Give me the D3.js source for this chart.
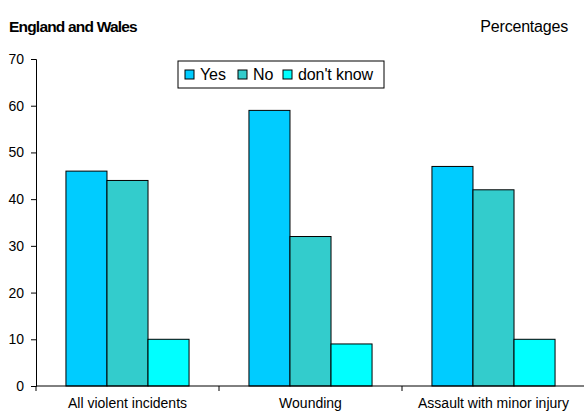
<!DOCTYPE html>
<html>
<head>
<meta charset="utf-8">
<script src="https://cdn.jsdelivr.net/npm/d3@7"></script>
<style>
  body { margin: 0; background: #fff; }
  svg { display: block; font-family: "Liberation Sans", Arial, sans-serif; }
</style>
</head>
<body>
<svg id="chart" width="584" height="412"></svg>
<script>
// Categories and series
const categories = ["All violent incidents", "Wounding", "Assault with minor injury"];
const seriesNames = ["Yes", "No", "don't know"];
const yesValues = [46, 59, 47];
const noValues = [44, 32, 42];
const dontKnowValues = [10, 9, 10];
const seriesColors = ["#00CCFF", "#33CCCC", "#00FFFF"];
const yTicks = [0, 10, 20, 30, 40, 50, 60, 70];

const seriesValues = [yesValues, noValues, dontKnowValues];

const svg = d3.select("#chart");
const plot = { left: 36, right: 585, top: 59, bottom: 386 };

const x0 = d3.scaleBand()
  .domain(categories)
  .range([plot.left, plot.right])
  .padding(0);

const x1 = d3.scaleBand()
  .domain(seriesNames)
  .range([0, x0.bandwidth()])
  .paddingInner(0)
  .paddingOuter(0.73);

const y = d3.scaleLinear()
  .domain([0, 70])
  .range([plot.bottom, plot.top]);

// Title and unit note
svg.append("text")
  .attr("x", 9).attr("y", 32)
  .attr("font-size", 15.5).attr("font-weight", "bold")
  .attr("letter-spacing", -0.8)
  .attr("fill", "#000")
  .text("England and Wales");

svg.append("text")
  .attr("x", 568).attr("y", 32)
  .attr("text-anchor", "end")
  .attr("font-size", 16)
  .attr("letter-spacing", -0.2)
  .attr("fill", "#000")
  .text("Percentages");

// Bars
const groups = svg.append("g").selectAll("g")
  .data(categories)
  .join("g")
  .attr("transform", d => `translate(${x0(d)},0)`);

groups.selectAll("rect")
  .data((d, i) => seriesNames.map((s, j) => ({ s, j, v: seriesValues[j][i] })))
  .join("rect")
  .attr("x", d => x1(d.s))
  .attr("y", d => y(d.v))
  .attr("width", x1.bandwidth())
  .attr("height", d => y(0) - y(d.v))
  .attr("fill", d => seriesColors[d.j])
  .attr("stroke", "#000")
  .attr("stroke-width", 1);

// Y axis
const yAxis = d3.axisLeft(y)
  .tickValues(yTicks)
  .tickSize(5)
  .tickPadding(7);

const gy = svg.append("g")
  .attr("transform", `translate(${plot.left},0)`)
  .call(yAxis);
gy.select(".domain").attr("stroke", "#000");
gy.selectAll(".tick line").attr("stroke", "#000");
gy.selectAll(".tick text")
  .attr("font-size", 14)
  .attr("font-family", "Liberation Sans, Arial, sans-serif")
  .attr("fill", "#000");

// X axis with ticks at category boundaries
const gx = svg.append("g")
  .attr("transform", `translate(0,${plot.bottom})`);
gx.append("line")
  .attr("x1", plot.left).attr("x2", plot.right)
  .attr("stroke", "#000");
const boundaries = categories.map(c => x0(c)).concat([x0(categories[categories.length - 1]) + x0.bandwidth()]);
gx.selectAll("line.tk")
  .data(boundaries)
  .join("line")
  .attr("class", "tk")
  .attr("x1", d => d).attr("x2", d => d)
  .attr("y1", 0).attr("y2", 5)
  .attr("stroke", "#000");
gx.selectAll("text")
  .data(categories)
  .join("text")
  .attr("x", d => x0(d) + x0.bandwidth() / 2)
  .attr("y", 22)
  .attr("text-anchor", "middle")
  .attr("font-size", 14)
  .attr("fill", "#000")
  .text(d => d);

// Legend
const legend = svg.append("g").attr("transform", "translate(178,61)");
legend.append("rect")
  .attr("x", 0).attr("y", 0)
  .attr("width", 206).attr("height", 27)
  .attr("fill", "#fff")
  .attr("stroke", "#000");

const legendOffsets = [7, 60, 105];
const items = legend.selectAll("g.item")
  .data(seriesNames)
  .join("g")
  .attr("class", "item")
  .attr("transform", (d, i) => `translate(${legendOffsets[i]},0)`);
items.append("rect")
  .attr("x", 0).attr("y", 9)
  .attr("width", 9).attr("height", 9)
  .attr("fill", (d, i) => seriesColors[i])
  .attr("stroke", "#000");
items.append("text")
  .attr("x", 15).attr("y", 19)
  .attr("font-size", 16)
  .attr("letter-spacing", -0.1)
  .attr("fill", "#000")
  .text(d => d);
</script>
</body>
</html>
